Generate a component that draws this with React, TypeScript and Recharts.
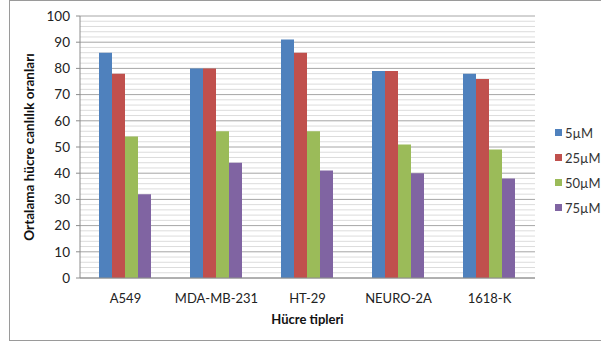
import React from 'react';
import { BarChart, Bar, XAxis, YAxis, CartesianGrid, Label } from 'recharts';

const categories = ['A549', 'MDA-MB-231', 'HT-29', 'NEURO-2A', '1618-K'];
const s5 = [86, 80, 91, 79, 78];
const s25 = [78, 80, 86, 79, 76];
const s50 = [54, 56, 56, 51, 49];
const s75 = [32, 44, 41, 40, 38];
const seriesNames = ['5µM', '25µM', '50µM', '75µM'];
const seriesColors = ['#4F81BD', '#C0504D', '#9BBB59', '#8064A2'];
const yTicks = [0, 10, 20, 30, 40, 50, 60, 70, 80, 90, 100];
const minorTicks = [2, 4, 6, 8, 12, 14, 16, 18, 22, 24, 26, 28, 32, 34, 36, 38, 42, 44, 46, 48, 52, 54, 56, 58, 62, 64, 66, 68, 72, 74, 76, 78, 82, 84, 86, 88, 92, 94, 96, 98];

const data = categories.map((c, i) => ({
  name: c,
  s5: s5[i],
  s25: s25[i],
  s50: s50[i],
  s75: s75[i],
}));

const keys = ['s5', 's25', 's50', 's75'];
const FONT = 'Lato, "Open Sans", sans-serif';

const LegendBox = () => (
  <div style={{ position: 'absolute', left: 555, top: 120, fontFamily: FONT, fontSize: 13, color: '#333' }}>
    {seriesNames.map((n, i) => (
      <div key={n} style={{ display: 'flex', alignItems: 'center', height: 25 }}>
        <span style={{ width: 7, height: 7, background: seriesColors[i], display: 'inline-block', marginRight: 3 }} />
        <span>{n}</span>
      </div>
    ))}
  </div>
);

export default function App() {
  return (
    <div style={{ position: 'absolute', left: 0, top: 0, width: 601, height: 342, background: '#fff' }}>
      <div style={{ position: 'absolute', left: 9, top: 0, width: 600, height: 341, border: '1px solid #9a9a9a', boxSizing: 'border-box' }} />
      <BarChart
        width={601}
        height={342}
        data={data}
        margin={{ top: 16, right: 66, bottom: 0, left: 0 }}
        barGap={0}
        barCategoryGap={19}
      >
        <CartesianGrid horizontal vertical={false} horizontalValues={minorTicks} stroke="#dcdcdc" strokeWidth={1} />
        <CartesianGrid horizontal vertical={false} horizontalValues={yTicks} stroke="#a6a6a6" strokeWidth={1} />
        <XAxis
          dataKey="name"
          height={64}
          tickLine={false}
          axisLine={{ stroke: '#8c8c8c' }}
          tickMargin={10}
          tick={{ fontFamily: FONT, fontSize: 13, fill: '#222' }}
        >
          <Label value="Hücre tipleri" position="insideBottom" offset={18} style={{ fontFamily: FONT, fontSize: 13, fontWeight: 'bold', fill: '#111' }} />
        </XAxis>
        <YAxis
          width={80}
          domain={[0, 100]}
          ticks={yTicks}
          interval={0}
          tickSize={4}
          tickMargin={6}
          tickLine={{ stroke: '#8c8c8c' }}
          axisLine={{ stroke: '#8c8c8c' }}
          tick={{ fontFamily: FONT, fontSize: 13.5, fill: '#222' }}
        >
          <Label value="Ortalama hücre canlılık oranları" angle={-90} position="insideLeft" offset={29} style={{ fontFamily: FONT, fontSize: 13.5, fontWeight: 'bold', fill: '#111', textAnchor: 'middle' }} />
        </YAxis>
        {keys.map((k, i) => (
          <Bar key={k} dataKey={k} name={seriesNames[i]} fill={seriesColors[i]} isAnimationActive={false} />
        ))}
      </BarChart>
      <LegendBox />
    </div>
  );
}
